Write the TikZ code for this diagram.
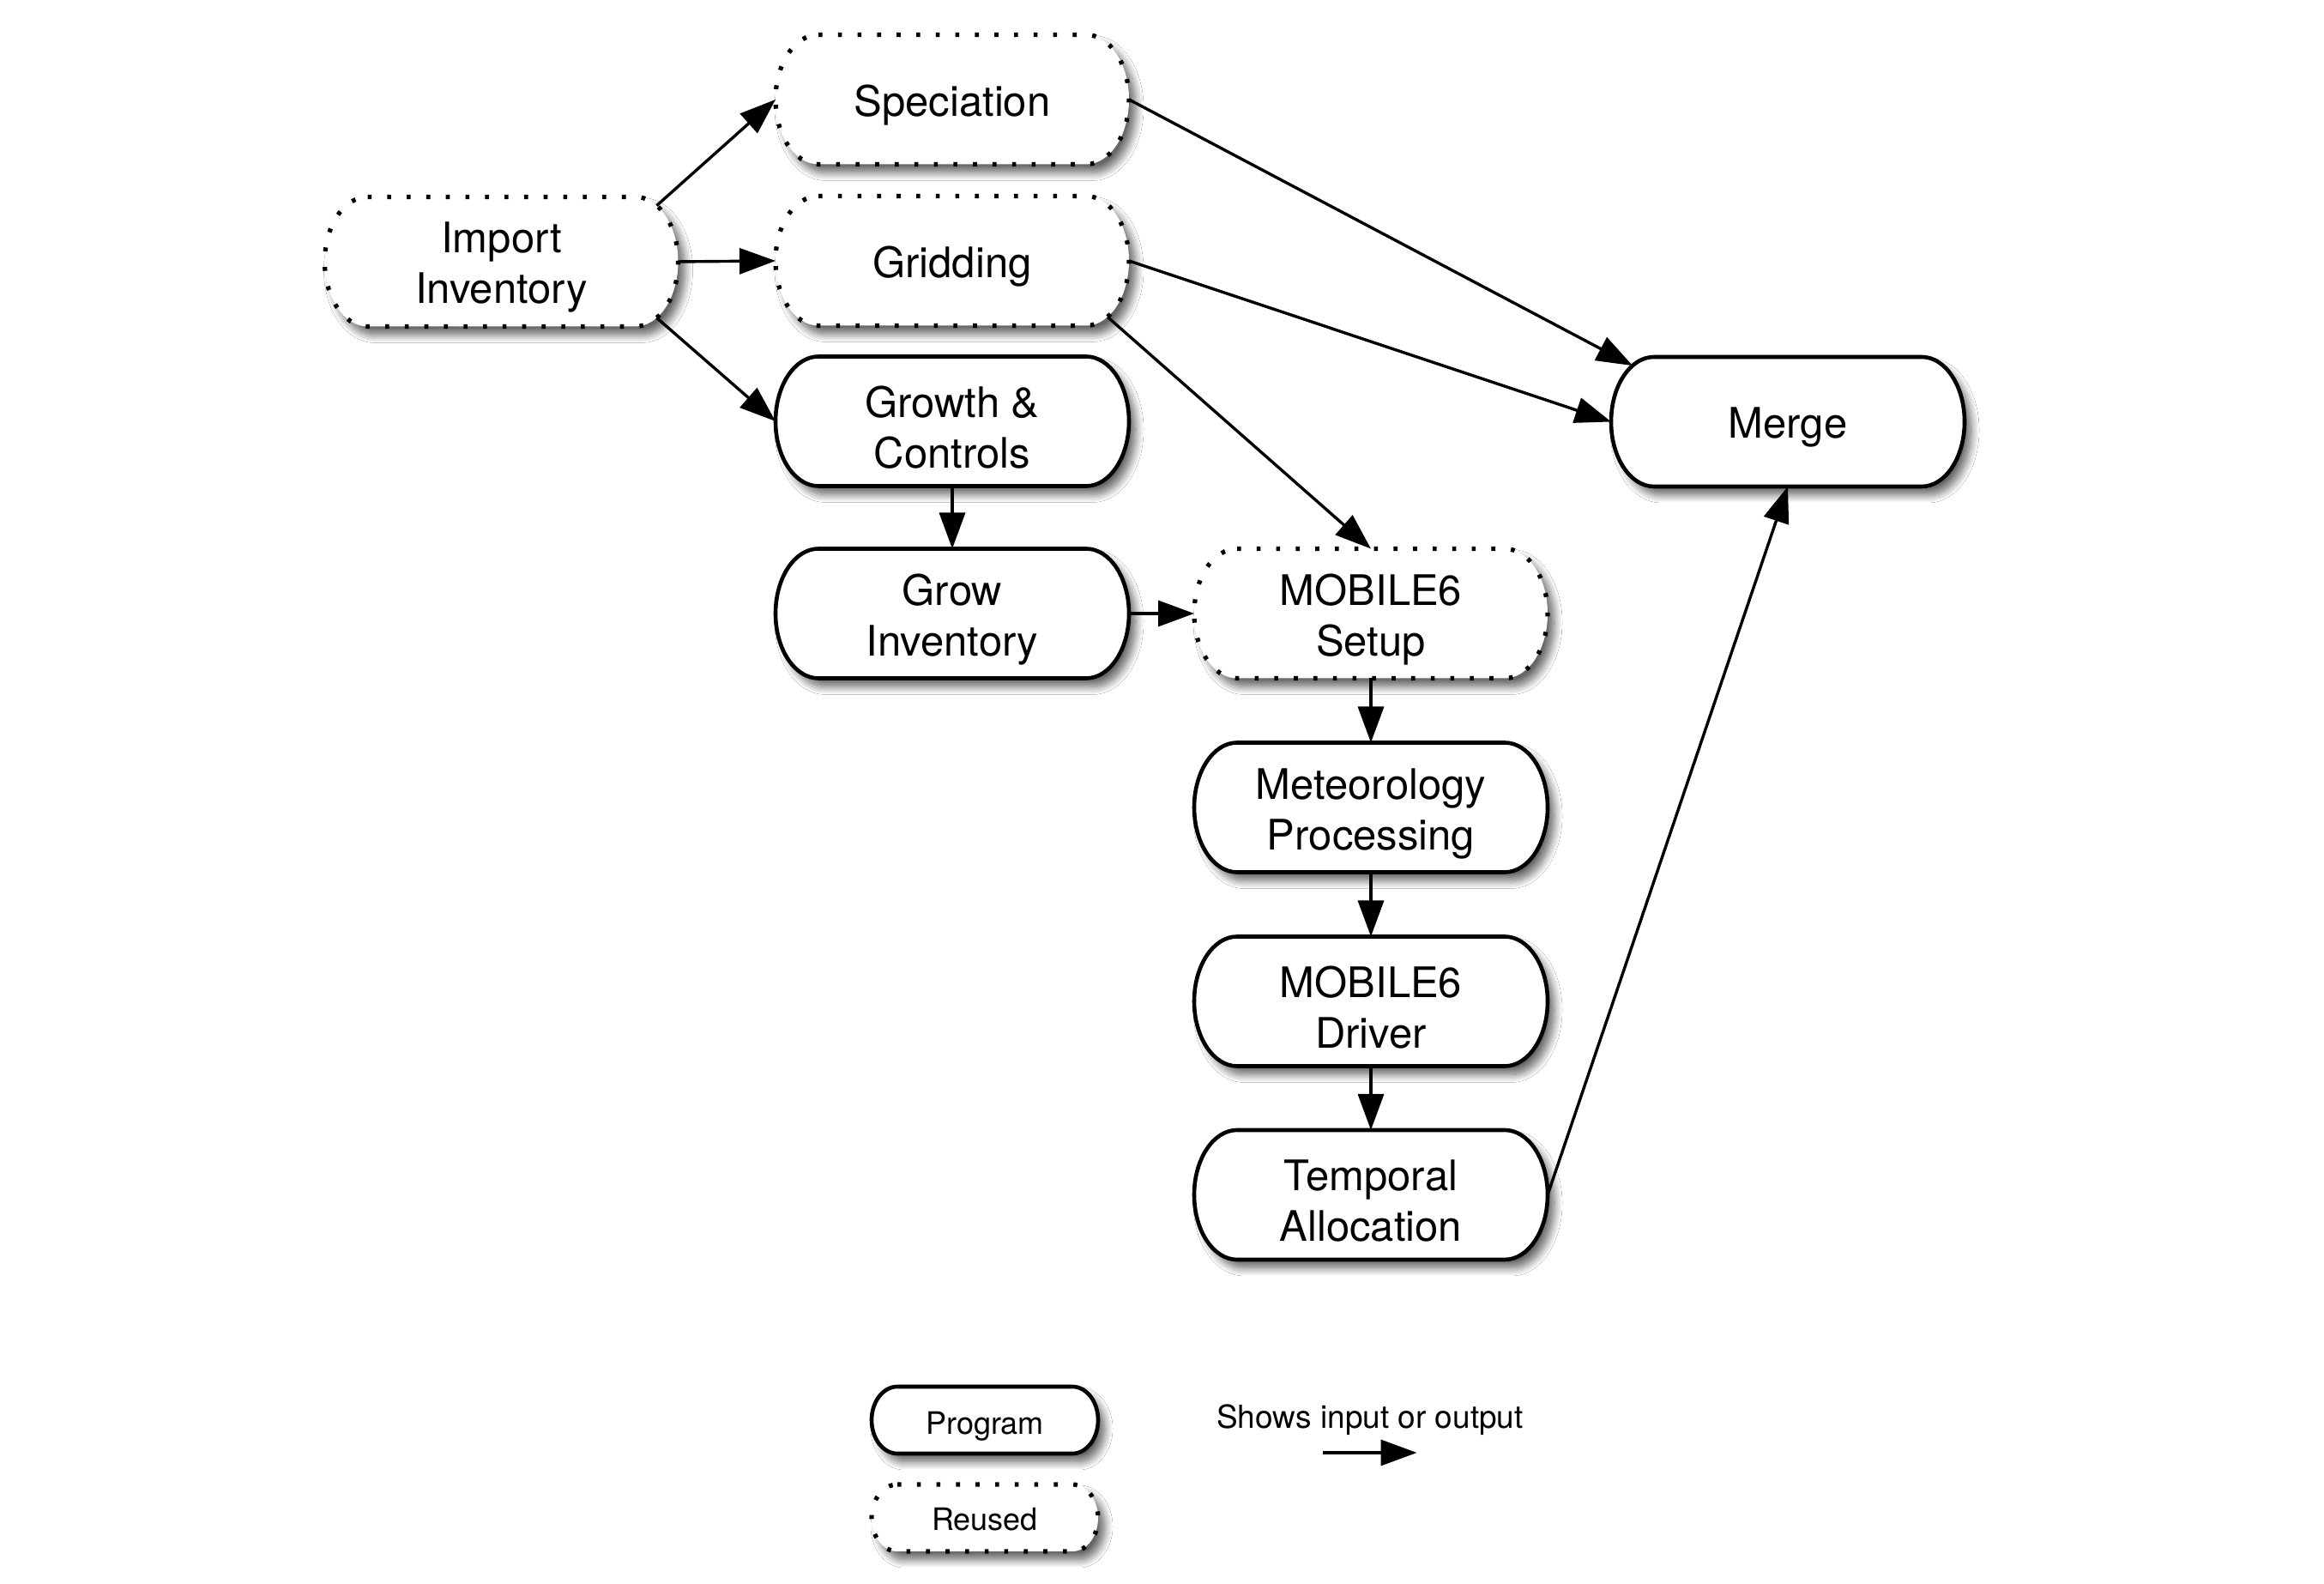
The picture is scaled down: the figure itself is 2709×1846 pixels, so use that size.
\documentclass[tikz,border=0pt]{standalone}
\usepackage{fontspec}
\setmainfont{TeX Gyre Heros}
\usetikzlibrary{arrows.meta,calc,backgrounds,shadows.blur}
\tikzset{
  boxn/.style={inner sep=0pt, outer sep=0pt, minimum width=206pt, minimum height=75.5pt},
  legn/.style={inner sep=0pt, outer sep=0pt, minimum width=132pt, minimum height=39pt},
  txt/.style={inner sep=0pt, align=center, font=\fontsize{24.5pt}{29.5pt}\selectfont},
  legtxt/.style={inner sep=0pt, align=center, font=\fontsize{18pt}{21pt}\selectfont},
  boxsh/.style={fill=white, blur shadow={shadow xshift=4pt, shadow yshift=-5pt,
    shadow blur radius=4.5pt, shadow blur steps=10, shadow opacity=60}},
  progbox/.style={boxsh, draw=black, line width=2.3pt},
  reusedbox/.style={boxsh, draw=black, line width=2.6pt, dash pattern=on 2.3pt off 9.1pt},
  conn/.style={-{Triangle[length=21pt,width=15pt]}, line width=1.7pt},
}
\begin{document}
\begin{tikzpicture}[x=0.5pt,y=0.5pt]
\useasboundingbox (0,0) rectangle (2709,1846);
% box nodes
\node[boxn] (spec) at (1110,1730) {};
\node[boxn] (imp) at (584.5,1541) {};
\node[boxn] (grid) at (1110,1542) {};
\node[boxn] (grow) at (1110,1355) {};
\node[boxn] (merge) at (2084,1354.5) {};
\node[boxn] (growinv) at (1110,1131) {};
\node[boxn] (setup) at (1598,1131) {};
\node[boxn] (met) at (1598,905) {};
\node[boxn] (drv) at (1598,679) {};
\node[boxn] (temp) at (1598,453.5) {};
% labels
\node[txt] (spec-t) at ([yshift=-3.5pt]spec.center) {Speciation};
\node[txt] (imp-t) at ([yshift=-3.5pt]imp.center) {Import\\Inventory};
\node[txt] (grid-t) at ([yshift=-3.5pt]grid.center) {Gridding};
\node[txt] (grow-t) at ([yshift=-3.5pt]grow.center) {Growth \&\\Controls};
\node[txt] (merge-t) at ([yshift=-3.5pt]merge.center) {Merge};
\node[txt] (growinv-t) at ([yshift=-3.5pt]growinv.center) {Grow\\Inventory};
\node[txt] (setup-t) at ([yshift=-3.5pt]setup.center) {MOBILE6\\Setup};
\node[txt] (met-t) at ([yshift=-3.5pt]met.center) {Meteorology\\Processing};
\node[txt] (drv-t) at ([yshift=-3.5pt]drv.center) {MOBILE6\\Driver};
\node[txt] (temp-t) at ([yshift=-3.5pt]temp.center) {Temporal\\Allocation};
% legend
\node[legn] (lprog) at (1148,191) {};
\node[legn] (lreu) at (1148,77) {};
\node[legtxt] (lprog-t) at ([yshift=-3.5pt]lprog.center) {Program};
\node[legtxt] (lreu-t) at ([yshift=-1pt]lreu.center) {Reused};
\node[anchor=base, inner sep=0pt, font=\fontsize{18.5pt}{22pt}\selectfont] (ltext) at (1597,181.5) {Shows input or output};
\coordinate (la) at (1542,153);
\coordinate (lb) at (1651.5,153);
% box outlines
\begin{scope}[on background layer]
  \fill[white] (0,0) rectangle (2709,1846);
  \foreach \n in {grow,merge,growinv,met,drv,temp}{
    \path[progbox] ($(\n.north west)+(25pt,0pt)$) -- ($(\n.north east)+(-25pt,0pt)$)
      arc[start angle=90,end angle=-90,x radius=25pt,y radius=37.75pt]
      -- ($(\n.south west)+(25pt,0pt)$)
      arc[start angle=270,end angle=90,x radius=25pt,y radius=37.75pt] -- cycle;
  }
  \foreach \n in {spec,imp,grid,setup}{
    \path[reusedbox] ($(\n.north west)+(25pt,0pt)$) -- ($(\n.north east)+(-25pt,0pt)$)
      arc[start angle=90,end angle=-90,x radius=25pt,y radius=37.75pt]
      -- ($(\n.south west)+(25pt,0pt)$)
      arc[start angle=270,end angle=90,x radius=25pt,y radius=37.75pt] -- cycle;
  }
  \path[progbox] ($(lprog.north west)+(15pt,0pt)$) -- ($(lprog.north east)+(-15pt,0pt)$)
      arc[start angle=90,end angle=-90,x radius=15pt,y radius=19.5pt]
      -- ($(lprog.south west)+(15pt,0pt)$)
      arc[start angle=270,end angle=90,x radius=15pt,y radius=19.5pt] -- cycle;
  \path[reusedbox] ($(lreu.north west)+(15pt,0pt)$) -- ($(lreu.north east)+(-15pt,0pt)$)
      arc[start angle=90,end angle=-90,x radius=15pt,y radius=19.5pt]
      -- ($(lreu.south west)+(15pt,0pt)$)
      arc[start angle=270,end angle=90,x radius=15pt,y radius=19.5pt] -- cycle;
\end{scope}
% connectors
\draw[conn] ($(imp.center)+(181,65.4)$) -- (spec.west);
\draw[conn] (imp.east) -- (grid.west);
\draw[conn] ($(imp.center)+(181,-65.4)$) -- (grow.west);
\draw[conn] (spec.east) -- ($(merge.center)+(-181,65.4)$);
\draw[conn] (grid.east) -- (merge.west);
\draw[conn] ($(grid.center)+(181,-65.4)$) -- (setup.north);
\draw[conn] (grow.south) -- (growinv.north);
\draw[conn] (growinv.east) -- (setup.west);
\draw[conn] (setup.south) -- (met.north);
\draw[conn] (met.south) -- (drv.north);
\draw[conn] (drv.south) -- (temp.north);
\draw[conn] (temp.east) -- (merge.south);
\draw[conn] (la) -- (lb);
\end{tikzpicture}
\end{document}
